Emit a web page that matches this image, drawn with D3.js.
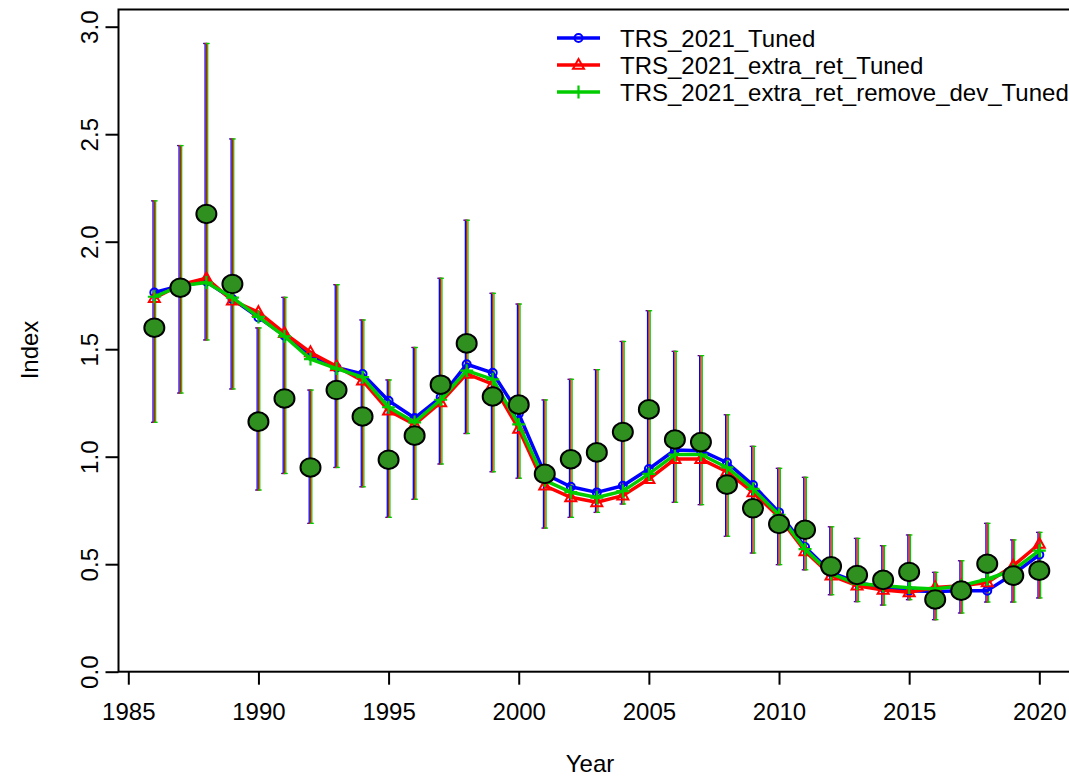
<!DOCTYPE html>
<html>
<head>
<meta charset="utf-8">
<script src="https://cdnjs.cloudflare.com/ajax/libs/d3/7.8.5/d3.min.js"></script>
<style>
  html, body { margin: 0; padding: 0; background: #fff; }
  svg { display: block; font-family: "Liberation Sans", Arial, Helvetica, sans-serif; }
</style>
</head>
<body>
<svg id="chart" width="1069" height="778"></svg>
<script>
const years = d3.range(1986, 2021);
const observed = [1.60, 1.786, 2.129, 1.803, 1.163, 1.271, 0.95, 1.31, 1.187, 0.986, 1.098, 1.335, 1.527, 1.28, 1.242, 0.92, 0.988, 1.02, 1.115, 1.22, 1.08, 1.068, 0.87, 0.76, 0.687, 0.66, 0.49, 0.45, 0.427, 0.464, 0.336, 0.377, 0.502, 0.447, 0.47];
const upperCI = [2.19, 2.447, 2.922, 2.478, 1.599, 1.741, 1.31, 1.80, 1.636, 1.357, 1.508, 1.83, 2.10, 1.76, 1.71, 1.264, 1.36, 1.405, 1.536, 1.679, 1.49, 1.47, 1.195, 1.048, 0.946, 0.904, 0.674, 0.62, 0.586, 0.636, 0.462, 0.516, 0.69, 0.613, 0.648];
const lowerCI = [1.16, 1.296, 1.543, 1.315, 0.845, 0.922, 0.69, 0.95, 0.86, 0.718, 0.802, 0.966, 1.108, 0.93, 0.90, 0.668, 0.718, 0.741, 0.78, 0.89, 0.788, 0.777, 0.63, 0.552, 0.498, 0.474, 0.358, 0.326, 0.31, 0.335, 0.242, 0.273, 0.324, 0.324, 0.343];
const tuned = [1.764, 1.795, 1.815, 1.733, 1.648, 1.563, 1.47, 1.415, 1.385, 1.26, 1.18, 1.276, 1.43, 1.39, 1.20, 0.92, 0.86, 0.834, 0.865, 0.943, 1.031, 1.028, 0.973, 0.868, 0.741, 0.58, 0.462, 0.415, 0.392, 0.377, 0.373, 0.377, 0.377, 0.454, 0.544];
const extraRet = [1.737, 1.80, 1.83, 1.726, 1.672, 1.575, 1.485, 1.42, 1.354, 1.214, 1.15, 1.253, 1.385, 1.338, 1.129, 0.865, 0.811, 0.788, 0.819, 0.896, 0.989, 0.989, 0.93, 0.834, 0.72, 0.56, 0.447, 0.40, 0.38, 0.369, 0.392, 0.40, 0.415, 0.493, 0.594];
const removeDev = [1.744, 1.795, 1.81, 1.74, 1.65, 1.56, 1.454, 1.41, 1.37, 1.23, 1.16, 1.265, 1.40, 1.36, 1.15, 0.89, 0.835, 0.81, 0.84, 0.92, 1.01, 1.01, 0.95, 0.85, 0.73, 0.57, 0.455, 0.41, 0.40, 0.39, 0.385, 0.40, 0.43, 0.473, 0.563];
const seriesNames = ["TRS_2021_Tuned", "TRS_2021_extra_ret_Tuned", "TRS_2021_extra_ret_remove_dev_Tuned"];
const seriesColors = ["#0000ff", "#ff0000", "#00cc00"];
const xTicks = [1985, 1990, 1995, 2000, 2005, 2010, 2015, 2020];
const yTicks = [0, 0.5, 1, 1.5, 2, 2.5, 3];

const svg = d3.select("#chart");
const x = d3.scaleLinear().domain([1985, 2020]).range([128.3, 1039.3]);
const y = d3.scaleLinear().domain([0, 3]).range([671.7, 26.7]);
const fontSize = 24;

// box
svg.append("rect").attr("x", 118.5).attr("y", 9.5).attr("width", 960).attr("height", 662.2)
  .attr("fill", "none").attr("stroke", "#000").attr("stroke-width", 2);

// axes
const gx = svg.append("g").attr("transform", "translate(0,671.7)")
  .call(d3.axisBottom(x).tickValues(xTicks).tickFormat(d3.format("d")).tickSize(13).tickPadding(18));
gx.select(".domain").remove();
gx.selectAll("line").attr("stroke", "#000").attr("stroke-width", 2);
gx.selectAll("text").attr("font-size", fontSize).attr("fill", "#000").attr("font-family", null);

const gy = svg.append("g").attr("transform", "translate(118.5,0)")
  .call(d3.axisLeft(y).tickValues(yTicks).tickFormat(d3.format(".1f")).tickSize(13));
gy.select(".domain").remove();
gy.selectAll("line").attr("stroke", "#000").attr("stroke-width", 2);
gy.selectAll("text").attr("x", null).attr("dy", null).attr("font-family", null)
  .attr("text-anchor", "middle").attr("font-size", fontSize).attr("fill", "#000")
  .attr("transform", "translate(-21,0) rotate(-90)");

svg.append("text").attr("x", 590).attr("y", 772).attr("text-anchor", "middle")
  .attr("font-size", fontSize).text("Year");
svg.append("text").attr("transform", "translate(38,350) rotate(-90)").attr("text-anchor", "middle")
  .attr("font-size", fontSize).text("Index");

// error bars, one per series colour, side by side
const offsets = [-1.3, 0, 1.3];
seriesColors.forEach((c, k) => {
  const g = svg.append("g");
  g.selectAll("line.bar").data(years).join("line")
    .attr("x1", (d) => x(d) + offsets[k]).attr("x2", (d) => x(d) + offsets[k])
    .attr("y1", (d, i) => y(lowerCI[i])).attr("y2", (d, i) => y(upperCI[i]))
    .attr("stroke", c).attr("stroke-width", 1.3);
  g.selectAll("line.capU").data(years).join("line")
    .attr("x1", (d) => x(d) + offsets[k] - 2).attr("x2", (d) => x(d) + offsets[k] + 2)
    .attr("y1", (d, i) => y(upperCI[i])).attr("y2", (d, i) => y(upperCI[i]))
    .attr("stroke", c).attr("stroke-width", 1.3);
  g.selectAll("line.capL").data(years).join("line")
    .attr("x1", (d) => x(d) + offsets[k] - 2).attr("x2", (d) => x(d) + offsets[k] + 2)
    .attr("y1", (d, i) => y(lowerCI[i])).attr("y2", (d, i) => y(lowerCI[i]))
    .attr("stroke", c).attr("stroke-width", 1.3);
});

// model lines
const allSeries = [tuned, extraRet, removeDev];
const line = d3.line().x((d, i) => x(years[i])).y((d) => y(d));
function drawMarker(g, k, cx, cy) {
  const c = seriesColors[k];
  if (k === 0) {
    g.append("circle").attr("cx", cx).attr("cy", cy).attr("r", 4).attr("fill", "none").attr("stroke", c).attr("stroke-width", 2);
  } else if (k === 1) {
    const s = 5.5;
    g.append("path").attr("d", `M${cx},${cy - s * 1.1} L${cx + s},${cy + s * 0.7} L${cx - s},${cy + s * 0.7} Z`)
      .attr("fill", "none").attr("stroke", c).attr("stroke-width", 2);
  } else {
    const s = 6.5;
    g.append("path").attr("d", `M${cx - s},${cy} H${cx + s} M${cx},${cy - s} V${cy + s}`)
      .attr("fill", "none").attr("stroke", c).attr("stroke-width", 2.2);
  }
}
allSeries.forEach((vals, k) => {
  const g = svg.append("g");
  g.append("path").datum(vals).attr("d", line).attr("fill", "none")
    .attr("stroke", seriesColors[k]).attr("stroke-width", 3.5).attr("stroke-linejoin", "round");
  vals.forEach((v, i) => drawMarker(g, k, x(years[i]), y(v)));
});

// observed points
svg.append("g").selectAll("ellipse").data(years).join("ellipse")
  .attr("cx", (d) => x(d)).attr("cy", (d, i) => y(observed[i]))
  .attr("rx", 10).attr("ry", 9.3)
  .attr("fill", "#2f8f1f").attr("stroke", "#000").attr("stroke-width", 2);

// legend
const leg = svg.append("g");
seriesNames.forEach((n, k) => {
  const ly = 38 + k * 27;
  leg.append("line").attr("x1", 557).attr("x2", 600).attr("y1", ly).attr("y2", ly)
    .attr("stroke", seriesColors[k]).attr("stroke-width", 3.5);
  drawMarker(leg, k, 578.5, ly);
  leg.append("text").attr("x", 620).attr("y", ly + 8.5).attr("font-size", fontSize).text(n);
});
</script>
</body>
</html>
